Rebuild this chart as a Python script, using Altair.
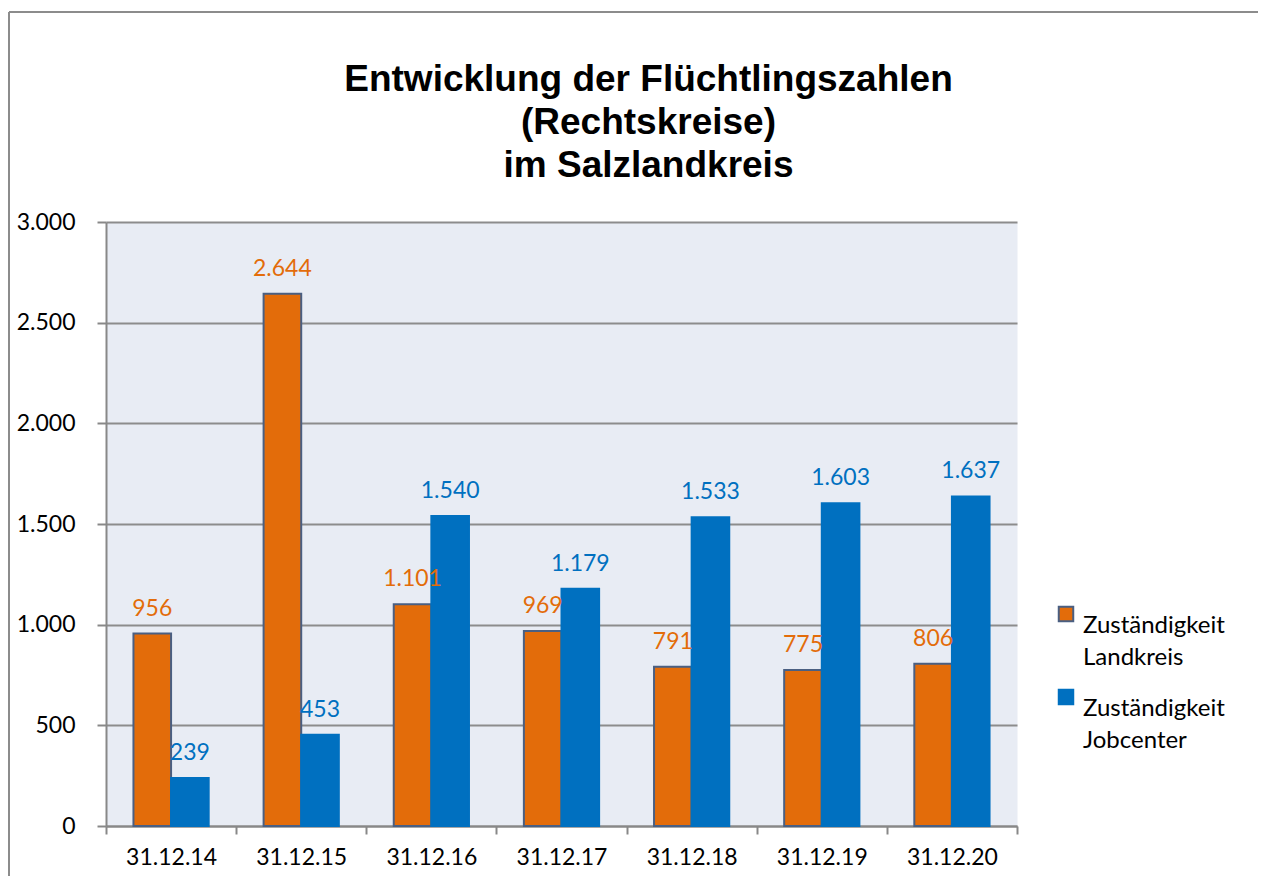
import altair as alt
import pandas as pd

dates = ["31.12.14", "31.12.15", "31.12.16", "31.12.17", "31.12.18", "31.12.19", "31.12.20"]
landkreis = [956, 2644, 1101, 969, 791, 775, 806]
jobcenter = [239, 453, 1540, 1179, 1533, 1603, 1637]
series = ["Zuständigkeit|Landkreis", "Zuständigkeit|Jobcenter"]
colors = ["#E36C0A", "#0070C0"]

rows = []
for d, a, b in zip(dates, landkreis, jobcenter):
    rows.append({"Datum": d, "Serie": series[0], "Wert": a})
    rows.append({"Datum": d, "Serie": series[1], "Wert": b})
df = pd.DataFrame(rows)

W, H = 911, 604
PL, PT = 98, 214
TOTW, TOTH = 1250, 868

x_enc = alt.X("Datum:N", sort=dates, title=None,
              scale=alt.Scale(paddingInner=0, paddingOuter=0),
              axis=alt.Axis(tickBand="extent", labelAngle=0, labelFont="Lato",
                            labelFontSize=23, labelColor="#000000", tickSize=8,
                            tickColor="#888888", tickWidth=2, domainColor="#888888",
                            domainWidth=2, labelPadding=12, grid=False))
xoff = alt.XOffset("Serie:N", sort=series,
                   scale=alt.Scale(paddingOuter=0.73, paddingInner=0))
color_scale = alt.Scale(domain=series, range=colors)

bars = alt.Chart(df).mark_bar(strokeWidth=2).encode(
    x=x_enc,
    xOffset=xoff,
    y=alt.Y("Wert:Q", title=None,
            scale=alt.Scale(domain=[0, 3000], nice=False),
            axis=alt.Axis(values=[0, 500, 1000, 1500, 2000, 2500, 3000],
                          labelExpr="replace(format(datum.value, ','), ',', '.')",
                          labelFont="Lato", labelFontSize=23, labelColor="#000000",
                          tickSize=9, tickColor="#888888", tickWidth=2,
                          domainColor="#888888", domainWidth=2, labelPadding=22,
                          gridColor="#8C8C8C", gridWidth=2)),
    color=alt.Color("Serie:N", sort=series, scale=color_scale, title=None,
                    legend=alt.Legend(orient="none", legendX=948, legendY=380,
                                      labelExpr="split(datum.label, '|')",
                                      labelFont="Lato", labelFontSize=24,
                                      labelColor="#000000", symbolType="square",
                                      symbolSize=210, symbolStrokeWidth=2,
                                      rowPadding=15, labelOffset=5,
                                      labelBaseline="top", padding=0)),
    stroke=alt.Stroke("Serie:N", sort=series,
                      scale=alt.Scale(domain=series, range=["#4A5F82", "#0070C0"]),
                      legend=None),
)

labels = alt.Chart(df).transform_calculate(
    txt="replace(format(datum.Wert, ','), ',', '.')"
).mark_text(font="Lato", fontSize=23, baseline="bottom", dy=-13).encode(
    x=alt.X("Datum:N", sort=dates),
    xOffset=xoff,
    y=alt.Y("Wert:Q"),
    text="txt:N",
    color=alt.Color("Serie:N", sort=series, scale=color_scale, legend=None),
)

frame_left = alt.Chart(pd.DataFrame({"a": [0]})).mark_rule(color="#8C8C8C", strokeWidth=2).encode(
    x=alt.value(-97), y=alt.value(-210), y2=alt.value(TOTH))
frame_top = alt.Chart(pd.DataFrame({"a": [0]})).mark_rule(color="#8C8C8C", strokeWidth=2).encode(
    x=alt.value(-97), x2=alt.value(TOTW), y=alt.value(-210))

chart = alt.layer(bars, labels, frame_left, frame_top).properties(
    width=W, height=H,
    autosize=alt.AutoSizeParams(type="none"),
    padding={"left": PL, "top": PT, "right": TOTW - PL - W, "bottom": TOTH - PT - H},
    title=alt.Title(["Entwicklung der Flüchtlingszahlen", "(Rechtskreise)", "im Salzlandkreis"],
                    font="Liberation Sans", fontSize=37, fontWeight="bold",
                    color="#000000", lineHeight=43, anchor="middle", dx=87, offset=-174),
).configure(style={"guide-label": {"lineHeight": 32}}).configure_view(
    fill="#E8ECF4", strokeOpacity=0
)

chart.save("out.html", embed_options={"renderer": "svg", "actions": False})
